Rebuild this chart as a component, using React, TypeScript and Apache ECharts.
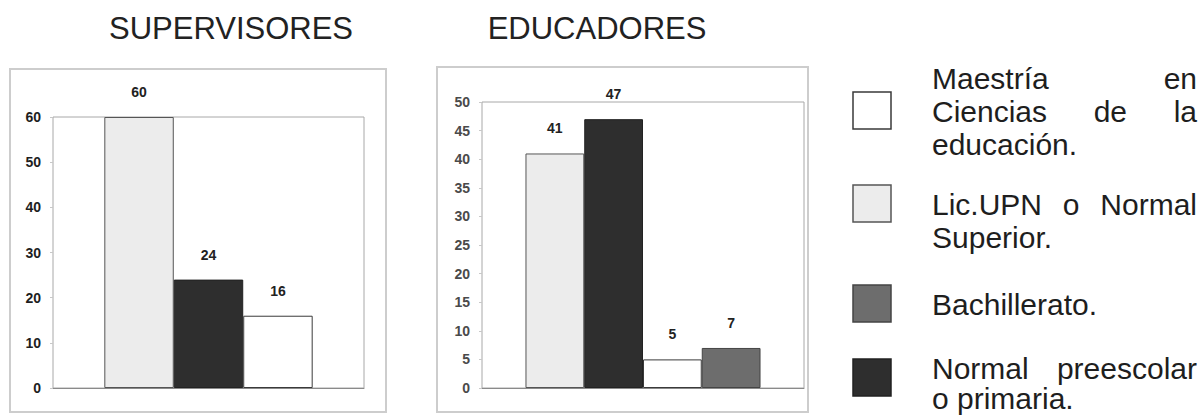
import React, { useEffect, useRef } from "react";
import * as echarts from "echarts";

// ---- data ----
const chartTitles = ["SUPERVISORES", "EDUCADORES"];
const supervisoresSeries = [
  "Lic.UPN o Normal Superior.",
  "Normal preescolar o primaria.",
  "Maestría en Ciencias de la educación.",
];
const supervisoresValues = [60, 24, 16];
const supervisoresAxis = { min: 0, max: 60, step: 10 };

const educadoresSeries = [
  "Lic.UPN o Normal Superior.",
  "Normal preescolar o primaria.",
  "Maestría en Ciencias de la educación.",
  "Bachillerato.",
];
const educadoresValues = [41, 47, 5, 7];
const educadoresAxis = { min: 0, max: 50, step: 5 };

const legendSeries = [
  "Maestría en Ciencias de la educación.",
  "Lic.UPN o Normal Superior.",
  "Bachillerato.",
  "Normal preescolar o primaria.",
];
const legendLines = [
  ["Maestría en", "Ciencias de la", "educación."],
  ["Lic.UPN o Normal", "Superior."],
  ["Bachillerato."],
  ["Normal preescolar", "o primaria."],
];

// ---- styles ----
const FONT = '"Liberation Sans", Arial, sans-serif';
const seriesStyle: Record<string, { fill: string; stroke: string }> = {
  "Maestría en Ciencias de la educación.": { fill: "#ffffff", stroke: "#3a3a3a" },
  "Lic.UPN o Normal Superior.": { fill: "#ececec", stroke: "#555555" },
  "Bachillerato.": { fill: "#6d6d6d", stroke: "#444444" },
  "Normal preescolar o primaria.": { fill: "#2e2e2e", stroke: "#222222" },
};

const LEG_FONT_SIZE = 30;
const LEG_X0 = 932;
const LEG_X1 = 1197;
const legendSquareY = [92, 185, 285, 359];
const legendLineY = [
  [78, 111, 144],
  [204, 237],
  [304],
  [368, 398],
];

function measure(text: string, size: number): number {
  const c = document.createElement("canvas").getContext("2d");
  if (!c) return text.length * size * 0.5;
  c.font = `${size}px "Liberation Sans", Arial, sans-serif`;
  return c.measureText(text).width;
}

function buildLegendGraphics() {
  const els: any[] = [];
  legendSeries.forEach((name, i) => {
    const st = seriesStyle[name];
    els.push({
      type: "rect",
      shape: { x: 853, y: legendSquareY[i], width: 38, height: 37 },
      style: { fill: st.fill, stroke: st.stroke, lineWidth: 1.5 },
    });
    const lines = legendLines[i];
    lines.forEach((line, j) => {
      const y = legendLineY[i][j];
      const justify = j < lines.length - 1;
      const words = line.split(" ");
      if (!justify || words.length < 2) {
        els.push({
          type: "text",
          x: LEG_X0,
          y,
          style: {
            text: line,
            fontSize: LEG_FONT_SIZE,
            fontFamily: FONT,
            fill: "#1e1e1e",
            align: "left",
            verticalAlign: "middle",
          },
        });
      } else {
        const widths = words.map((w) => measure(w, LEG_FONT_SIZE));
        const total = widths.reduce((a, b) => a + b, 0);
        const gap = (LEG_X1 - LEG_X0 - total) / (words.length - 1);
        let x = LEG_X0;
        words.forEach((w, k) => {
          els.push({
            type: "text",
            x,
            y,
            style: {
              text: w,
              fontSize: LEG_FONT_SIZE,
              fontFamily: FONT,
              fill: "#1e1e1e",
              align: "left",
              verticalAlign: "middle",
            },
          });
          x += widths[k] + gap;
        });
      }
    });
  });
  return els;
}

function makeBarSeries(
  names: string[],
  values: number[],
  axisIndex: number,
  catGap: string
) {
  return names.map((name, i) => ({
    type: "bar",
    name,
    xAxisIndex: axisIndex,
    yAxisIndex: axisIndex,
    data: [values[i]],
    barGap: "0%",
    barCategoryGap: catGap,
    itemStyle: {
      color: seriesStyle[name].fill,
      borderColor: seriesStyle[name].stroke,
      borderWidth: 1,
    },
    label: {
      show: true,
      position: "top",
      distance: 18,
      fontFamily: FONT,
      fontWeight: "bold",
      fontSize: 14,
      color: "#222",
    },
  }));
}

export default function App() {
  const ref = useRef<HTMLDivElement>(null);
  useEffect(() => {
    if (!ref.current) return;
    const chart = echarts.init(ref.current, undefined, { renderer: "svg" });
    const yAxisCommon = (ax: { min: number; max: number; step: number }, color: string) => ({
      type: "value",
      min: ax.min,
      max: ax.max,
      interval: ax.step,
      splitLine: { show: false },
      axisLine: { show: false },
      axisTick: { show: true, length: 3, lineStyle: { color: "#c8c8c8" } },
      axisLabel: {
        fontFamily: FONT,
        fontWeight: "bold",
        fontSize: 14,
        color,
        margin: 12,
      },
    });
    const xAxisCommon = (cat: string, gridIndex: number) => ({
      type: "category",
      gridIndex,
      data: [cat],
      axisLabel: { show: false },
      axisTick: { show: false },
      axisLine: { show: true, lineStyle: { color: "#8a8a8a", width: 1 } },
    });
    chart.setOption({
      animation: false,
      backgroundColor: "#ffffff",
      grid: [
        {
          left: 53,
          top: 117,
          width: 311,
          height: 271,
          show: true,
          borderColor: "#a8a8a8",
          borderWidth: 1,
          backgroundColor: "#ffffff",
        },
        {
          left: 482,
          top: 102,
          width: 322,
          height: 286,
          show: true,
          borderColor: "#a8a8a8",
          borderWidth: 1,
          backgroundColor: "#ffffff",
        },
      ],
      xAxis: [xAxisCommon(chartTitles[0], 0), xAxisCommon(chartTitles[1], 1)],
      yAxis: [
        { ...yAxisCommon(supervisoresAxis, "#1e1e1e"), gridIndex: 0 },
        { ...yAxisCommon(educadoresAxis, "#4a4a4a"), gridIndex: 1 },
      ],
      series: [
        ...makeBarSeries(supervisoresSeries, supervisoresValues, 0, "33%"),
        ...makeBarSeries(educadoresSeries, educadoresValues, 1, "27%"),
      ],
      graphic: [
        {
          type: "rect",
          z: -10,
          shape: { x: 10, y: 69, width: 376, height: 343 },
          style: { fill: "none", stroke: "#cdcdcd", lineWidth: 2 },
        },
        {
          type: "rect",
          z: -10,
          shape: { x: 437, y: 67, width: 371, height: 345 },
          style: { fill: "none", stroke: "#cdcdcd", lineWidth: 2 },
        },
        {
          type: "text",
          x: 231,
          y: 28,
          style: {
            text: chartTitles[0],
            fontSize: 31,
            fontFamily: FONT,
            fill: "#222",
            align: "center",
            verticalAlign: "middle",
          },
        },
        {
          type: "text",
          x: 597,
          y: 28,
          style: {
            text: chartTitles[1],
            fontSize: 31,
            fontFamily: FONT,
            fill: "#222",
            align: "center",
            verticalAlign: "middle",
          },
        },
        ...buildLegendGraphics(),
      ],
    });
    return () => chart.dispose();
  }, []);
  return (
    <div
      ref={ref}
      style={{
        position: "fixed",
        left: 0,
        top: 0,
        width: 1204,
        height: 415,
        background: "#fff",
      }}
    />
  );
}
